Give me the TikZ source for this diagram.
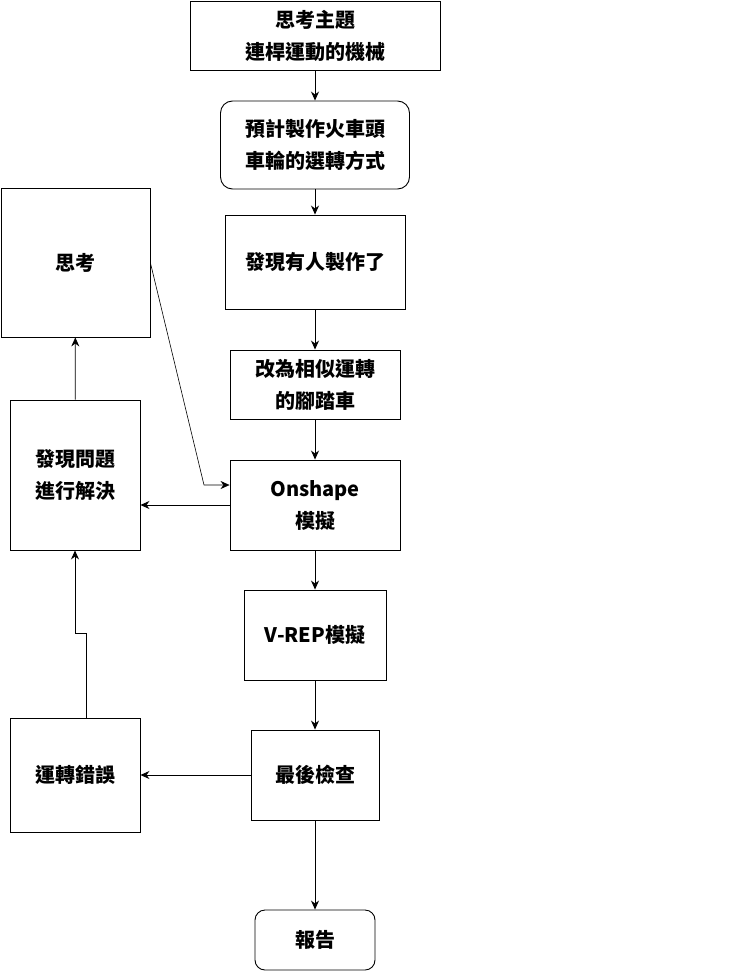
\documentclass[tikz,border=0pt]{standalone}
\usepackage{fontspec}
\setmainfont{Noto Sans CJK TC}
\usetikzlibrary{arrows.meta}
\begin{document}
\begin{tikzpicture}[x=1pt,y=-1pt,
  box/.style={draw, line width=0.9pt, inner sep=0pt, align=center,
    font=\fontsize{20}{32}\selectfont\bfseries},
  arr/.style={-{Stealth[length=9pt,width=8pt]}, line width=0.8pt}]
\useasboundingbox (0,0) rectangle (741,976);

% main column
\node[box, minimum width=250, minimum height=69] (n1) at (315,35.5) {思考主題\\連桿運動的機械};
\node[box, rounded corners=12, minimum width=189, minimum height=88] (n2) at (315,145) {預計製作火車頭\\車輪的選轉方式};
\node[box, minimum width=180, minimum height=94] (n3) at (315,262) {發現有人製作了};
\node[box, minimum width=170, minimum height=69] (n4) at (315,384.5) {改為相似運轉\\的腳踏車};
\node[box, minimum width=170, minimum height=90] (n5) at (315,505) {Onshape\\模擬};
\node[box, minimum width=142, minimum height=90] (n6) at (315,635) {V-REP模擬};
\node[box, minimum width=128, minimum height=90] (n7) at (315,775) {最後檢查};
\node[box, rounded corners=10, minimum width=120, minimum height=60] (n8) at (315,940) {報告};

% feedback column
\node[box, minimum width=149, minimum height=149] (think) at (75.5,262.5) {思考};
\node[box, minimum width=130, minimum height=150] (solve) at (75,475) {發現問題\\進行解決};
\node[box, minimum width=130, minimum height=114] (err) at (75,775) {運轉錯誤};

% main flow
\draw[arr] (n1) -- (n2);
\draw[arr] (n2) -- (n3);
\draw[arr] (n3) -- (n4);
\draw[arr] (n4) -- (n5);
\draw[arr] (n5) -- (n6);
\draw[arr] (n6) -- (n7);
\draw[arr] (n7) -- (n8);

% feedback loop
\draw[arr] (n5.west) -- (n5.west -| solve.east);
\draw[arr] (n7.west) -- (n7.west -| err.east);
\draw[arr] (solve) -- (think);
\draw[arr] ([xshift=11pt]err.north) -- ++(0,-84) -| (solve.south);
\coordinate (bend) at (204,485);
\draw[arr, line width=0.6pt] ([yshift=-0.5pt]think.east) -- (bend) -- (bend -| n5.west);
\end{tikzpicture}
\end{document}
